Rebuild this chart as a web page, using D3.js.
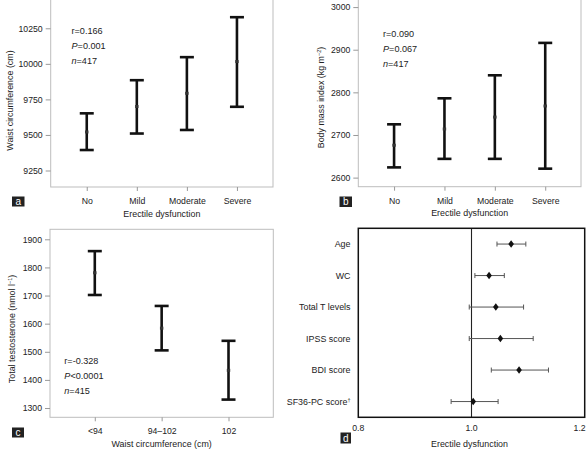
<!DOCTYPE html>
<html><head><meta charset="utf-8">
<script src="https://cdn.jsdelivr.net/npm/d3@7"></script>
<style>
body{margin:0;background:#fff;}
svg{display:block;font-family:"Liberation Sans",Arial,sans-serif;}
</style></head>
<body><svg id="c" width="586" height="451"></svg>
<script>
// ---- data ----
const edCategories = ["No","Mild","Moderate","Severe"];
const waistMean = [9521, 9700, 9793, 10016];
const waistLow  = [9394, 9510, 9535, 9698];
const waistHigh = [9652, 9885, 10047, 10328];
const waistTicks = [9250, 9500, 9750, 10000, 10250];
const waistStats = ["r=0.166","P=0.001","n=417"];

const bmiMean = [2676, 2714, 2742, 2768];
const bmiLow  = [2624, 2644, 2644, 2621];
const bmiHigh = [2725, 2786, 2840, 2916];
const bmiTicks = [2600, 2700, 2800, 2900, 3000];
const bmiStats = ["r=0.090","P=0.067","n=417"];

const wcCategories = ["<94","94\u2013102","102"];
const ttMean = [1781, 1584, 1434];
const ttLow  = [1702, 1505, 1330];
const ttHigh = [1858, 1663, 1539];
const ttTicks = [1300,1400,1500,1600,1700,1800,1900];
const ttStats = ["r=-0.328","P<0.0001","n=415"];

const orVars = ["Age","WC","Total T levels","IPSS score","BDI score","SF36-PC score"];
const orPoint = [1.070, 1.031, 1.043, 1.051, 1.084, 1.003];
const orLow   = [1.045, 1.006, 0.996, 0.996, 1.035, 0.964];
const orHigh  = [1.096, 1.058, 1.092, 1.109, 1.136, 1.047];
const orTicks = [0.8, 1.0, 1.2];

const svg = d3.select("#c");
const FS = 8.7, TXT = "#222";

function statText(g, x, y0, lines){
  lines.forEach((s,i)=>{
    const t = g.append("text").attr("x",x).attr("y",y0+i*15.2)
      .attr("font-size",FS+0.4).attr("fill",TXT);
    const m = s.match(/^([rPn])(.*)$/);
    t.append("tspan").attr("font-style", m[1]==="r"?"normal":"italic").text(m[1]);
    t.append("tspan").text(m[2]);
  });
}
function panelLabel(x,y,w,h,ch){
  svg.append("rect").attr("x",x).attr("y",y).attr("width",w).attr("height",h).attr("fill","#222");
  svg.append("text").attr("x",x+w/2).attr("y",y+h-2).attr("text-anchor","middle")
    .attr("font-size",10).attr("fill","#fff").text(ch);
}

function errPanel(o){
  const g = svg.append("g");
  const x = d3.scalePoint().domain(o.cats).range([o.L,o.R]).padding(o.pad);
  const y = d3.scaleLinear().domain(o.ydom).range([o.B,o.T]);
  g.append("rect").attr("x",o.L).attr("y",o.T).attr("width",o.R-o.L).attr("height",o.B-o.T)
    .attr("fill","none").attr("stroke","#bdbdbd").attr("stroke-width",1);
  const ya = g.append("g").attr("transform",`translate(${o.L},0)`)
    .call(d3.axisLeft(y).tickValues(o.ticks).tickSize(5).tickPadding(3).tickFormat(d3.format("d")));
  ya.select(".domain").remove();
  ya.selectAll("line").attr("stroke","#999");
  ya.selectAll("text").attr("font-size",FS).attr("fill",TXT).attr("font-family","Liberation Sans, Arial");
  const xa = g.append("g").attr("transform",`translate(0,${o.B})`)
    .call(d3.axisBottom(x).tickSize(4).tickPadding(7));
  xa.select(".domain").remove();
  xa.selectAll("line").attr("stroke","#999");
  xa.selectAll("text").attr("font-size",FS).attr("fill",TXT).attr("font-family","Liberation Sans, Arial");
  o.cats.forEach((c,i)=>{
    const cx = x(c);
    g.append("line").attr("x1",cx).attr("x2",cx).attr("y1",y(o.lo[i])).attr("y2",y(o.hi[i]))
      .attr("stroke","#111").attr("stroke-width",2.6);
    [o.lo[i],o.hi[i]].forEach(v=>g.append("line").attr("x1",cx-7).attr("x2",cx+7)
      .attr("y1",y(v)).attr("y2",y(v)).attr("stroke","#111").attr("stroke-width",2.6));
    g.append("rect").attr("x",cx-1.7).attr("y",y(o.mean[i])-1.5).attr("width",3.4).attr("height",3)
      .attr("fill","#333");
  });
  g.append("text").attr("x",(o.L+o.R)/2).attr("y",o.B+29.5).attr("text-anchor","middle")
    .attr("font-size",FS+0.2).attr("fill",TXT).text(o.xTitle);
  const yt = g.append("text").attr("transform",`translate(${o.ytx},${o.yty}) rotate(-90)`)
    .attr("text-anchor","middle").attr("font-size",FS+0.2).attr("fill",TXT);
  yt.append("tspan").text(o.yTitle);
  if(o.ySup){
    yt.append("tspan").attr("font-size",5.5).attr("dy",-3).text(o.ySup);
    yt.append("tspan").attr("dy",3).text(")");
  }
  statText(g, o.sx, o.sy, o.stats);
}

errPanel({cats:edCategories, L:50.7, R:273, T:-2, B:187, pad:0.72,
  ydom:[9134,10463], ticks:waistTicks, mean:waistMean, lo:waistLow, hi:waistHigh,
  xTitle:"Erectile dysfunction", yTitle:"Waist circumference (cm)", ytx:12.5, yty:100.5,
  stats:waistStats, sx:71.5, sy:33.5});
errPanel({cats:edCategories, L:358.3, R:581, T:-2, B:186.7, pad:0.71,
  ydom:[2578.7,3021.3], ticks:bmiTicks, mean:bmiMean, lo:bmiLow, hi:bmiHigh,
  xTitle:"Erectile dysfunction", yTitle:"Body mass index (kg m", ySup:"\u22122", ytx:323.5, yty:97.5,
  stats:bmiStats, sx:383, sy:36.5});
errPanel({cats:wcCategories, L:50, R:273.3, T:229.3, B:417.3, pad:0.67,
  ydom:[1267,1935.6], ticks:ttTicks, mean:ttMean, lo:ttLow, hi:ttHigh,
  xTitle:"Waist circumference (cm)", yTitle:"Total testosterone (nmol l", ySup:"\u22121", ytx:15, yty:329,
  stats:ttStats, sx:64.3, sy:363.5});

panelLabel(12,196.5,12.5,10,"a");
panelLabel(339.5,196.5,12.5,10.5,"b");
panelLabel(12,427.5,12,10,"c");
panelLabel(340.5,432.5,10.5,11,"d");

// ---- panel d (forest) ----
(function(){
  const L=358.3,R=584.7,T=228.3,B=417.3;
  const g = svg.append("g");
  const x = d3.scaleLinear().domain([0.8,1.2]).range([L,R]);
  const y = d3.scalePoint().domain(orVars).range([T,B]).padding(0.5);
  g.append("line").attr("x1",x(1)).attr("x2",x(1)).attr("y1",T).attr("y2",B)
    .attr("stroke","#222").attr("stroke-width",1.1);
  g.append("rect").attr("x",L).attr("y",T).attr("width",R-L).attr("height",B-T)
    .attr("fill","none").attr("stroke","#111").attr("stroke-width",1.5);
  orVars.forEach((v,i)=>{
    const cy=y(v);
    g.append("line").attr("x1",x(orLow[i])).attr("x2",x(orHigh[i])).attr("y1",cy).attr("y2",cy)
      .attr("stroke","#555").attr("stroke-width",1);
    [orLow[i],orHigh[i]].forEach(b=>g.append("line").attr("x1",x(b)).attr("x2",x(b))
      .attr("y1",cy-2.5).attr("y2",cy+2.5).attr("stroke","#555").attr("stroke-width",1));
    const px=x(orPoint[i]);
    g.append("path").attr("d",`M${px},${cy-3.8}L${px+2.8},${cy}L${px},${cy+3.8}L${px-2.8},${cy}Z`)
      .attr("fill","#111");
    const t=g.append("text").attr("x",350.5).attr("y",cy+3).attr("text-anchor","end")
      .attr("font-size",FS+0.2).attr("fill",TXT).text(v);
    if(i===orVars.length-1) t.append("tspan").attr("font-size",5.5).attr("dy",-3).text("\u2020");
  });
  orTicks.forEach((tv,i)=>{
    g.append("text").attr("x",x(tv)).attr("y",430.5)
      .attr("text-anchor", i===orTicks.length-1?"end":"middle")
      .attr("dx", i===orTicks.length-1?1:0)
      .attr("font-size",FS).attr("fill",TXT).text(d3.format(".1f")(tv));
  });
  g.append("text").attr("x",469.5).attr("y",447).attr("text-anchor","middle")
    .attr("font-size",FS+0.2).attr("fill",TXT).text("Erectile dysfunction");
})();
</script></body></html>
